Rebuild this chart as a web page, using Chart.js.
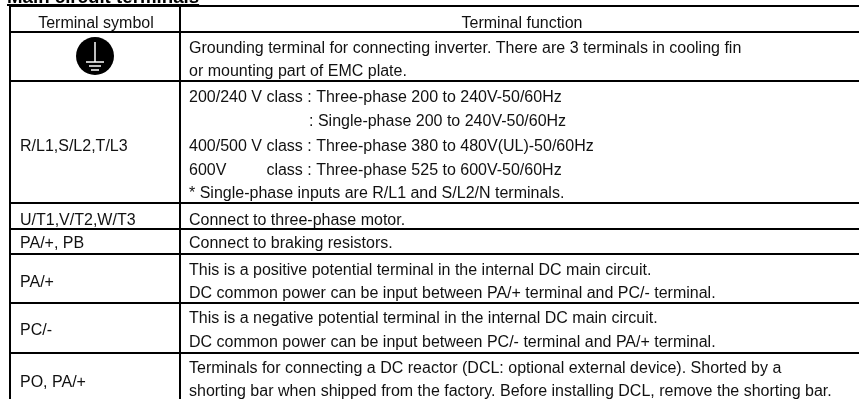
<!DOCTYPE html>
<html>
<head>
<meta charset="utf-8">
<title>Main circuit terminals</title>
<script src="https://cdn.jsdelivr.net/npm/chart.js@4"></script>
<style>
  html, body { margin: 0; padding: 0; background: #fff; overflow: hidden; }
  #wrap { width: 859px; height: 399px; }
</style>
</head>
<body>
<div id="wrap"><canvas id="table"></canvas></div>
<script>
const title = 'Main circuit terminals';
const headers = ['Terminal symbol', 'Terminal function'];

// table rules
const columnRules = [10, 180];
const rowRules = [6, 32, 81, 203, 229, 254, 303, 353];

// [text, baseline] for the first column
const symbols = [
  ['R/L1,S/L2,T/L3', 151],
  ['U/T1,V/T2,W/T3', 225],
  ['PA/+, PB', 248],
  ['PA/+', 287],
  ['PC/-', 335],
  ['PO, PA/+', 387]
];

// [text, baseline] for the second column
const functions = [
  ['Grounding terminal for connecting inverter. There are 3 terminals in cooling fin', 53],
  ['or mounting part of EMC plate.', 76],
  ['200/240 V class : Three-phase 200 to 240V-50/60Hz', 102],
  ['                           : Single-phase 200 to 240V-50/60Hz', 126],
  ['400/500 V class : Three-phase 380 to 480V(UL)-50/60Hz', 151],
  ['600V         class : Three-phase 525 to 600V-50/60Hz', 175],
  ['* Single-phase inputs are R/L1 and S/L2/N terminals.', 198],
  ['Connect to three-phase motor.', 225],
  ['Connect to braking resistors.', 248],
  ['This is a positive potential terminal in the internal DC main circuit.', 275],
  ['DC common power can be input between PA/+ terminal and PC/- terminal.', 298],
  ['This is a negative potential terminal in the internal DC main circuit.', 323],
  ['DC common power can be input between PC/- terminal and PA/+ terminal.', 347],
  ['Terminals for connecting a DC reactor (DCL: optional external device). Shorted by a', 373],
  ['shorting bar when shipped from the factory. Before installing DCL, remove the shorting bar.', 396]
];

const groundSymbol = [{ x: 95, y: 56 }];

const FONT = '16px "Liberation Sans", Arial, sans-serif';

const tableText = {
  id: 'tableText',
  afterDraw(chart) {
    const { ctx, scales: { x, y } } = chart;
    ctx.save();
    ctx.fillStyle = '#111';
    ctx.textBaseline = 'alphabetic';
    ctx.font = FONT;

    ctx.textAlign = 'center';
    ctx.fillText(headers[0], x.getPixelForValue(96), y.getPixelForValue(28));
    ctx.fillText(headers[1], x.getPixelForValue(522), y.getPixelForValue(28));

    ctx.textAlign = 'left';
    symbols.forEach(([t, b]) => ctx.fillText(t, x.getPixelForValue(20), y.getPixelForValue(b)));
    functions.forEach(([t, b]) => ctx.fillText(t, x.getPixelForValue(189), y.getPixelForValue(b)));

    // title sits above the table, cut off by the top of the page
    ctx.font = 'bold 18.7px "Liberation Sans", Arial, sans-serif';
    ctx.fillStyle = '#000';
    ctx.fillText(title, 7, 3);
    ctx.fillRect(7, 4, ctx.measureText(title).width, 2);

    // ground mark inside the round point
    const cx = x.getPixelForValue(groundSymbol[0].x);
    const cy = y.getPixelForValue(groundSymbol[0].y);
    ctx.strokeStyle = '#fff';
    ctx.lineWidth = 1.5;
    [[cx, cy - 14, cx, cy + 6], [cx - 9, cy + 6, cx + 9, cy + 6],
     [cx - 6, cy + 10, cx + 6, cy + 10], [cx - 4, cy + 14, cx + 4, cy + 14]].forEach(l => {
      ctx.beginPath();
      ctx.moveTo(l[0], l[1]);
      ctx.lineTo(l[2], l[3]);
      ctx.stroke();
    });
    ctx.restore();
  }
};

new Chart(document.getElementById('table'), {
  type: 'scatter',
  data: {
    datasets: [{
      data: groundSymbol,
      pointStyle: 'circle',
      pointRadius: 19,
      pointBackgroundColor: '#000',
      pointBorderWidth: 0
    }]
  },
  plugins: [tableText],
  options: {
    responsive: true,
    maintainAspectRatio: false,
    animation: false,
    events: [],
    layout: { autoPadding: false, padding: { left: 10, top: 6, right: 0, bottom: 0 } },
    plugins: { legend: { display: false }, tooltip: { enabled: false } },
    scales: {
      x: {
        type: 'linear', min: 10, max: 859,
        afterBuildTicks: s => { s.ticks = columnRules.map(value => ({ value })); },
        ticks: { display: false },
        border: { display: false },
        grid: { color: '#000', lineWidth: 2, drawTicks: false }
      },
      y: {
        type: 'linear', reverse: true, min: 6, max: 399,
        afterBuildTicks: s => { s.ticks = rowRules.map(value => ({ value })); },
        ticks: { display: false },
        border: { display: false },
        grid: { color: '#000', lineWidth: 2, drawTicks: false }
      }
    }
  }
});
</script>
</body>
</html>
